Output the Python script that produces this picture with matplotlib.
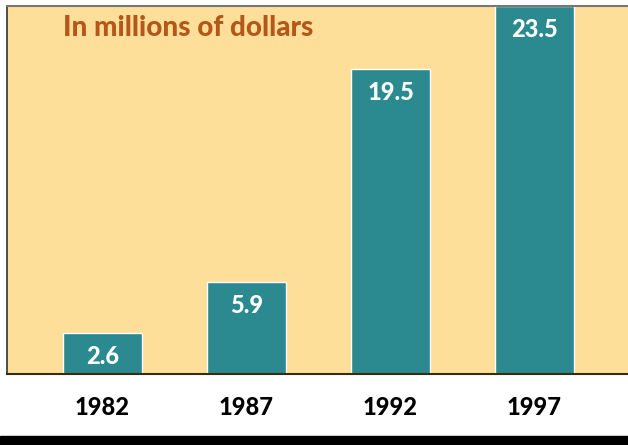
import matplotlib.pyplot as plt
import matplotlib.patches as patches

years = ['1982', '1987', '1992', '1997']
values = [2.6, 5.9, 19.5, 23.5]
value_labels = ['2.6', '5.9', '19.5', '23.5']

plt.rcParams['font.family'] = ['Lato', 'DejaVu Sans']

fig = plt.figure(figsize=(6.28, 4.45), dpi=100)
fig.patch.set_facecolor('white')
ax = fig.add_axes([7/628, 71/445, 621/628, 368/445])
ax.set_facecolor('#FDDF99')

x = list(range(len(years)))
bars = ax.bar(x, values, width=0.55, color='#2B8A8F', edgecolor='white', linewidth=1)

for xi, v, lab in zip(x, values, value_labels):
    ax.annotate(lab, (xi, v), xytext=(0, -17), textcoords='offset points',
                ha='center', va='center', color='white', fontsize=17, fontweight='black')

ax.set_xlim(-0.663, 3.649)
ax.set_ylim(0, 23.5)
ax.set_yticks([])
ax.set_xticks(x)
ax.set_xticklabels(years, fontsize=17, fontweight='black')
ax.tick_params(axis='x', length=0, pad=16)

ax.spines['right'].set_visible(False)
ax.spines['top'].set_color('#777777')
ax.spines['top'].set_linewidth(1.5)
ax.spines['left'].set_color('#333333')
ax.spines['left'].set_linewidth(1.2)
ax.spines['bottom'].set_color('#3a2a10')
ax.spines['bottom'].set_linewidth(1.5)

ax.text(56/621, 0.94, 'In millions of dollars', transform=ax.transAxes,
        color='#B5561B', fontsize=20, fontweight='black', va='center', ha='left')

fig.patches.append(patches.Rectangle((0, 0), 1, 9/445, transform=fig.transFigure,
                                     color='black', zorder=5))

fig.savefig('out.png', dpi=100)
